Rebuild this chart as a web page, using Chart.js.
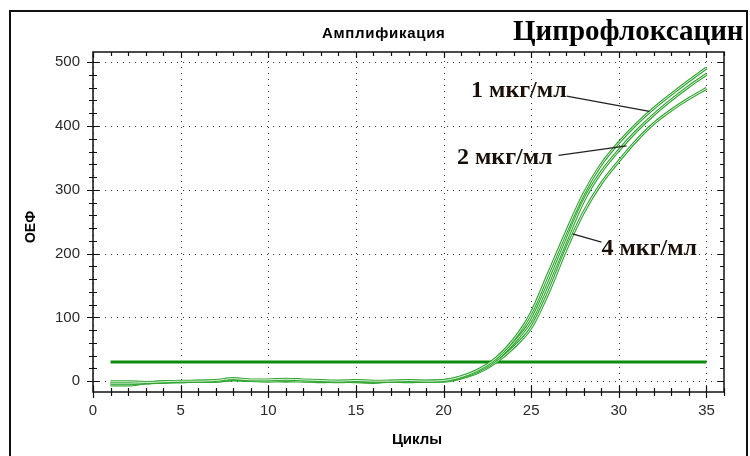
<!DOCTYPE html>
<html>
<head>
<meta charset="utf-8">
<script src="https://cdn.jsdelivr.net/npm/chart.js@4/dist/chart.umd.min.js"></script>
<style>
body { margin: 0; background: #fff; }
#wrap { position: relative; width: 750px; height: 456px; overflow: hidden; }
#frame { position: absolute; left: 9px; top: 10px; width: 739px; height: 470px; border: 2px solid #111; box-sizing: border-box; }
canvas { position: absolute; left: 0; top: 0; }
.t { position: absolute; white-space: nowrap; color: #000; }
</style>
</head>
<body>
<div id="wrap">
	<div id="frame"></div>
	<canvas id="chart" width="750" height="456"></canvas>
	<div class="t" style="left:322px;top:24px;letter-spacing:0.7px;font:bold 15px 'Liberation Sans', Arial, sans-serif">Амплификация</div>
	<div class="t" style="left:513px;top:14px;font:bold 29px 'Liberation Serif', 'Times New Roman', serif">Ципрофлоксацин</div>
</div>
<script>
// cycles and fluorescence values
const cycles = [1, 2, 3, 4, 5, 6, 7, 8, 9, 10, 11, 12, 13, 14, 15, 16, 17, 18, 19, 20,
	21, 22, 23, 24, 25, 26, 27, 28, 29, 30, 31, 32, 33, 34, 35]
const conc1 = [-1, -1, -2, -1, 0, 0, 1, 4, 2, 2, 3, 2, 1, 0, 1, 0, 0, 1, 0, 1,
	7, 18, 36, 65, 107, 170, 234, 294, 340, 374, 403, 428, 450, 471, 491]
const conc2 = [-4, -4, -3, -1, -1, 0, 0, 3, 1, 0, 1, 0, 0, -1, 0, -1, 0, 0, 0, 1,
	6, 16, 33, 60, 95, 155, 220, 283, 328, 362, 392, 418, 441, 462, 481]
const conc4 = [-6, -6, -3, -2, -1, 0, 0, 2, 1, 1, 0, 1, -1, 0, -1, -2, 0, -1, 0, 0,
	5, 14, 30, 53, 84, 140, 207, 265, 310, 345, 377, 404, 425, 443, 459]
const threshold = 30
const thresholdRange = [1, 35]

const xTicks = [0, 5, 10, 15, 20, 25, 30, 35]
const yTicks = [0, 100, 200, 300, 400, 500]

// annotations: text, baseline anchor in data units, leader line in data units
const notes = [
	{ text: '1 мкг/мл', align: 'right', at: [27.02, 445], line: [[27.02, 447], [31.75, 423]] },
	{ text: '2 мкг/мл', align: 'right', at: [26.22, 340], line: [[26.56, 354], [30.44, 369]] },
	{ text: '4 мкг/мл', align: 'left', at: [29.01, 198], line: [[29.01, 218], [27.36, 231]] },
]

const pts = arr => cycles.map((c, i) => ({ x: c, y: arr[i] }))

function curve(arr, inner) {
	return {
		data: pts(arr),
		borderColor: inner ? '#e2f6e2' : '#30a530',
		borderWidth: inner ? 1 : 3,
		pointRadius: 0,
		cubicInterpolationMode: 'monotone',
		fill: false,
	}
}

const frame = {
	id: 'frame',
	beforeDatasetsDraw(chart) {
		const { ctx, chartArea: a, scales: { x, y } } = chart
		ctx.save()
		ctx.strokeStyle = '#333'
		ctx.lineWidth = 1
		ctx.setLineDash([1, 5])
		xTicks.forEach(v => {
			const px = Math.round(x.getPixelForValue(v)) + 0.5
			ctx.beginPath(); ctx.moveTo(px, a.bottom); ctx.lineTo(px, a.top); ctx.stroke()
		})
		yTicks.forEach(v => {
			const py = Math.round(y.getPixelForValue(v)) + 0.5
			ctx.beginPath(); ctx.moveTo(a.left, py); ctx.lineTo(a.right, py); ctx.stroke()
		})
		ctx.restore()
	},
	afterDraw(chart) {
		const { ctx, chartArea: a, scales: { x, y } } = chart
		ctx.save()
		ctx.strokeStyle = '#111'
		ctx.lineWidth = 1.5
		ctx.strokeRect(a.left, a.top, a.right - a.left, a.bottom - a.top)
		ctx.lineWidth = 1.2
		// x ticks
		for (let v = 0; v <= 36; v++) {
			const px = Math.round(x.getPixelForValue(v)) + 0.5
			const major = v % 5 === 0
			const l = major ? 6 : 4
			ctx.beginPath()
			ctx.moveTo(px, a.bottom - l); ctx.lineTo(px, a.bottom + l)
			ctx.moveTo(px, a.top); ctx.lineTo(px, a.top + l)
			ctx.stroke()
		}
		// y ticks
		for (let v = 0; v <= 500; v += 20) {
			const py = Math.round(y.getPixelForValue(v)) + 0.5
			const major = v % 100 === 0
			const l = major ? 6 : 4
			ctx.beginPath()
			ctx.moveTo(a.left - l, py); ctx.lineTo(a.left + l, py)
			ctx.moveTo(a.right - l, py); ctx.lineTo(a.right, py)
			ctx.stroke()
		}
		// annotations
		ctx.strokeStyle = '#222'
		ctx.lineWidth = 1.3
		ctx.fillStyle = '#1a1008'
		ctx.font = "bold 24px 'Liberation Serif', 'Times New Roman', serif"
		ctx.textBaseline = 'alphabetic'
		notes.forEach(n => {
			ctx.beginPath()
			ctx.moveTo(x.getPixelForValue(n.line[0][0]), y.getPixelForValue(n.line[0][1]))
			ctx.lineTo(x.getPixelForValue(n.line[1][0]), y.getPixelForValue(n.line[1][1]))
			ctx.stroke()
			ctx.textAlign = n.align
			ctx.fillText(n.text, x.getPixelForValue(n.at[0]), y.getPixelForValue(n.at[1]))
		})
		// axis titles
		ctx.fillStyle = '#000'
		ctx.font = "bold 15px 'Liberation Sans', Arial, sans-serif"
		ctx.textAlign = 'center'
		ctx.textBaseline = 'middle'
		ctx.fillText('Циклы', 417, 440)
		ctx.font = "bold 14px 'Liberation Sans', Arial, sans-serif"
		ctx.translate(31, 227)
		ctx.rotate(-Math.PI / 2)
		ctx.fillText('ОЕФ', 0, 0)
		ctx.restore()
	},
}

new Chart(document.getElementById('chart'), {
	type: 'line',
	data: {
		datasets: [
			curve(conc1, true), curve(conc1, false),
			curve(conc2, true), curve(conc2, false),
			curve(conc4, true), curve(conc4, false),
			{
				data: thresholdRange.map(c => ({ x: c, y: threshold })),
				borderColor: '#0c8c0c',
				borderWidth: 3,
				pointRadius: 0,
			},
		],
	},
	options: {
		responsive: false,
		animation: false,
		events: [],
		layout: { padding: { top: 52, right: 26, left: 0, bottom: 0 } },
		plugins: { legend: { display: false }, tooltip: { enabled: false } },
		scales: {
			x: {
				type: 'linear',
				min: 0,
				max: 36,
				afterFit: s => { s.height = 64 },
				afterBuildTicks: s => { s.ticks = xTicks.map(v => ({ value: v })) },
				grid: { display: false },
				border: { display: false },
				ticks: { padding: 2, color: '#2a2a2a', maxRotation: 0, font: { family: "'Liberation Sans', Arial", size: 15 } },
			},
			y: {
				min: -17,
				max: 516,
				afterFit: s => { s.width = 93 },
				afterBuildTicks: s => { s.ticks = yTicks.map(v => ({ value: v })) },
				grid: { display: false },
				border: { display: false },
				ticks: { padding: 5, color: '#2a2a2a', font: { family: "'Liberation Sans', Arial", size: 15 } },
			},
		},
	},
	plugins: [frame],
})
</script>
</body>
</html>
